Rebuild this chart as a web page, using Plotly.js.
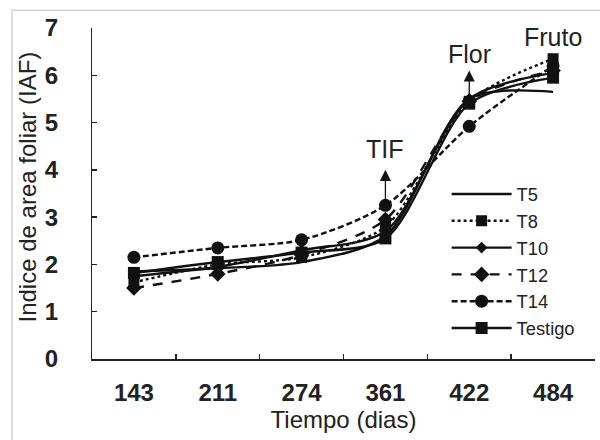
<!DOCTYPE html>
<html>
<head>
<meta charset="utf-8">
<script src="https://cdn.plot.ly/plotly-3.0.1.min.js"></script>
<style>
  html, body { margin: 0; padding: 0; background: #fff; }
  #chart { width: 600px; height: 440px; }
</style>
</head>
<body>
<div id="chart"></div>
<script>
// Sampling days (category axis)
const dias = ["143", "211", "274", "361", "422", "484"];

// Leaf area index per treatment
const t5      = [1.85, 1.92, 2.05, 2.60, 5.50, 5.65];
const t8      = [1.62, 2.00, 2.15, 2.80, 5.45, 6.35];
const t10     = [1.75, 1.95, 2.30, 2.70, 5.50, 6.05];
const t12     = [1.50, 1.80, 2.20, 2.95, 5.45, 6.10];
const t14     = [2.15, 2.35, 2.52, 3.25, 4.92, 6.20];
const testigo = [1.82, 2.05, 2.25, 2.55, 5.40, 5.95];

// Phenological stages: label, category index, arrow tail / tip (IAF), label height
const etapas = ["TIF", "Flor", "Fruto"];
const etapaIdx = [3, 4, 5];
const flechaDesde = [3.25, 5.45, null];
const flechaHasta = [4.0, 6.1, null];
const textoY = [4.45, 6.45, 6.82];

const FONT = "Liberation Sans, Arial, sans-serif";
const INK = "#111";
const TXT = "#222";

function serie(name, y, dash, symbol, size) {
  const tr = {
    type: "scatter",
    mode: symbol ? "lines+markers" : "lines",
    name: name,
    legendgroup: name,
    x: dias,
    y: y,
    line: { color: INK, width: 2.4, dash: dash, shape: "spline", smoothing: 0.8 },
    marker: { color: INK, size: size || 6 }
  };
  if (symbol) tr.marker.symbol = symbol;
  return tr;
}

const data = [
  serie("T5", t5, "solid", null, 0),
  serie("T8", t8, "dot", "square", 11),
  serie("T10", t10, "solid", "diamond", 9),
  serie("T12", t12, "10px,9px", "diamond", 12),
  serie("T14", t14, "6px,3px", "circle", 13),
  serie("Testigo", testigo, "solid", "square", 12)
];

const annotations = [];
etapas.forEach((t, i) => {
  if (flechaDesde[i] !== null) {
    annotations.push({
      x: etapaIdx[i], y: flechaHasta[i], xref: "x", yref: "y",
      ax: etapaIdx[i], ay: flechaDesde[i], axref: "x", ayref: "y",
      text: "", showarrow: true, arrowhead: 2, arrowsize: 1.7,
      arrowwidth: 1.3, arrowcolor: INK
    });
  }
  annotations.push({
    x: etapaIdx[i], y: textoY[i], xref: "x", yref: "y",
    text: t, showarrow: false,
    font: { family: FONT, size: 25, color: TXT }
  });
});

// Vertical axis title, placed in the left margin
annotations.push({
  xref: "paper", yref: "paper", x: -0.128, y: 0.52,
  xanchor: "center", yanchor: "middle", textangle: -90,
  text: "Indice de area foliar (IAF)", showarrow: false,
  font: { family: FONT, size: 24, color: TXT }
});

const layout = {
  width: 600,
  height: 440,
  margin: { l: 92, r: 5, t: 28, b: 81 },
  paper_bgcolor: "#fff",
  plot_bgcolor: "#fff",
  font: { family: FONT, color: TXT },
  showlegend: true,
  legend: {
    x: 0.705, y: 0.554, xanchor: "left", yanchor: "top",
    bgcolor: "rgba(255,255,255,0)",
    font: { family: FONT, size: 18.3, color: TXT },
    itemwidth: 60,
    tracegroupgap: 0
  },
  xaxis: {
    type: "category",
    range: [-0.5, 5.5],
    showline: true, linecolor: "#222", linewidth: 1.5,
    ticks: "inside", ticklen: 5, tickcolor: "#222", tickwidth: 1.5,
    tickson: "boundaries",
    showgrid: false, zeroline: false,
    tickfont: { family: FONT, size: 24, color: TXT, weight: "bold" },
    ticklabelstandoff: 12,
    title: { text: "Tiempo (dias)", font: { family: FONT, size: 24, color: TXT }, standoff: 2 }
  },
  yaxis: {
    range: [0, 7],
    dtick: 1,
    showline: true, linecolor: "#222", linewidth: 1.5,
    ticks: "inside", ticklen: 5, tickcolor: "#222", tickwidth: 1.5,
    showgrid: false, zeroline: false,
    tickfont: { family: FONT, size: 24, color: TXT, weight: "bold" },
    ticksuffix: "\u00a0",
    ticklabelstandoff: 21
  },
  annotations: annotations,
  shapes: [{
    type: "rect", xref: "paper", yref: "paper",
    x0: -0.159, x1: 1.2, y0: -0.5, y1: 1.054,
    line: { color: "#d4d4d4", width: 1.5 }, layer: "below"
  }]
};

Plotly.newPlot("chart", data, layout, { displayModeBar: false, staticPlot: true });
</script>
</body>
</html>
